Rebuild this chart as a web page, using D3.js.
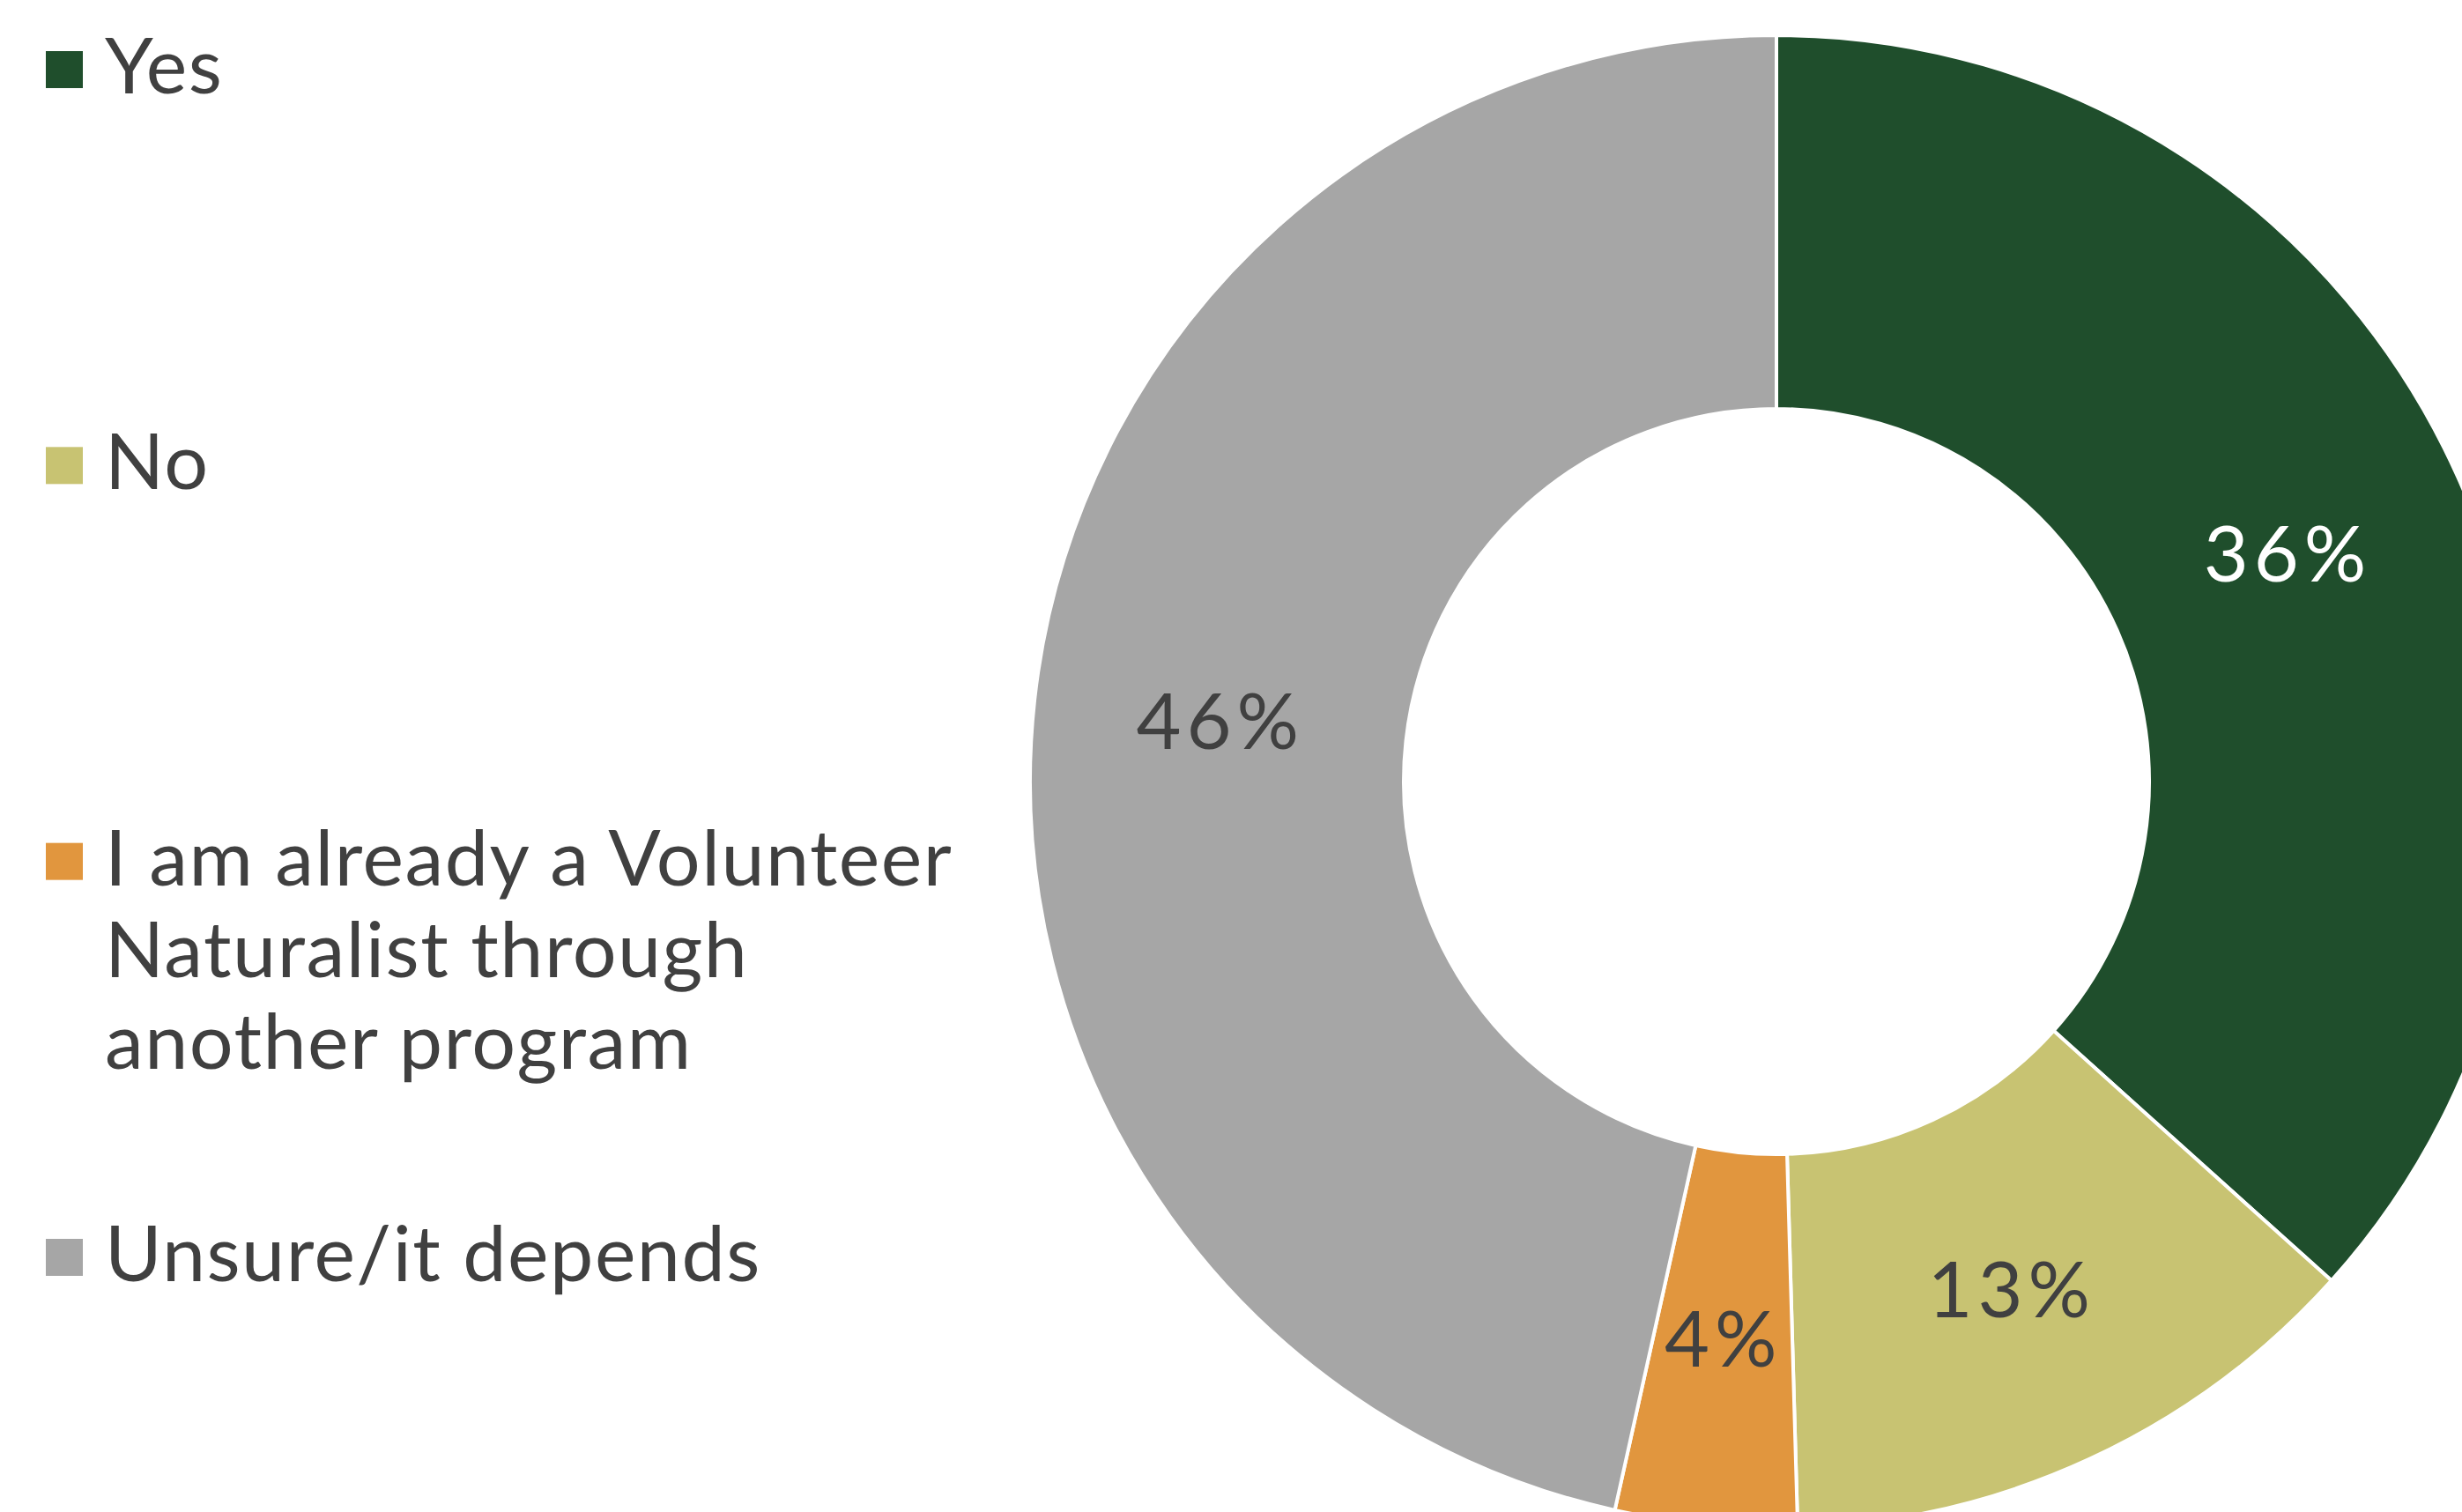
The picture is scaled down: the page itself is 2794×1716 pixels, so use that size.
<!DOCTYPE html>
<html>
<head>
<meta charset="utf-8">
<script src="https://cdn.jsdelivr.net/npm/d3@7"></script>
<style>
  html, body { margin: 0; padding: 0; background: #fff; overflow: hidden; }
  svg { display: block; font-family: Lato, "Open Sans", sans-serif; }
</style>
</head>
<body>
<script>
// values as stored in the sheet (they sum to 99.3%)
const categories = [
  'Yes',
  'No',
  'I am already a Volunteer Naturalist through another program',
  'Unsure/it depends'
];
const shares = [0.364, 0.128, 0.039, 0.462];
const colors = ['#1F4E2C', '#C8C372', '#E1963E', '#A6A6A6'];
const labelColors = ['#ffffff', '#404040', '#404040', '#404040'];

const width = 2794;
const height = 1716;
const fontSize = 88;
const textColor = '#404040';

const svg = d3.select('body').append('svg')
  .attr('width', width)
  .attr('height', height);

// --- donut ---
const cx = 2016, cy = 887;
const outerR = 847, innerR = 423;

const pie = d3.pie().sort(null).value(d => d.value);
const arc = d3.arc().innerRadius(innerR).outerRadius(outerR);
const labelArc = d3.arc().innerRadius((innerR + outerR) / 2).outerRadius((innerR + outerR) / 2);

const data = categories.map((name, i) => ({ name, value: shares[i], i }));
const arcs = pie(data);

const g = svg.append('g').attr('transform', `translate(${cx},${cy})`);

g.selectAll('path.slice').data(arcs).enter()
  .append('path')
  .attr('class', 'slice')
  .attr('d', arc)
  .attr('fill', d => colors[d.data.i])
  .attr('stroke', '#fff')
  .attr('stroke-width', 4)
  .attr('stroke-linejoin', 'round');

const fmt = d3.format('.0%');
g.selectAll('text.lbl').data(arcs).enter()
  .append('text')
  .attr('class', 'lbl')
  .attr('transform', d => `translate(${labelArc.centroid(d)})`)
  .attr('text-anchor', 'middle')
  .attr('dy', '0.36em')
  .attr('font-size', fontSize)
  .attr('letter-spacing', 6)
  .attr('fill', d => labelColors[d.data.i])
  .text(d => fmt(d.data.value));

// --- legend ---
const legendY = d3.scalePoint().domain(categories).range([58, 1406]);
const swatch = 42;
const lineHeight = 104;
const wrapWidth = 1000;

const items = svg.append('g').selectAll('g.item').data(data).enter()
  .append('g')
  .attr('class', 'item')
  .attr('transform', d => `translate(52,${legendY(d.name)})`);

items.append('rect')
  .attr('width', swatch)
  .attr('height', swatch)
  .attr('fill', d => colors[d.i]);

items.append('text')
  .attr('x', 67)
  .attr('y', 48)
  .attr('font-size', fontSize)
  .attr('letter-spacing', 1.5)
  .attr('fill', textColor)
  .each(function (d) {
    const text = d3.select(this);
    const words = d.name.split(' ');
    let line = [];
    let lineNo = 0;
    let tspan = text.append('tspan').attr('x', 67).attr('y', 48);
    words.forEach(w => {
      line.push(w);
      tspan.text(line.join(' '));
      if (tspan.node().getComputedTextLength() > wrapWidth && line.length > 1) {
        line.pop();
        tspan.text(line.join(' '));
        line = [w];
        lineNo++;
        tspan = text.append('tspan')
          .attr('x', 67)
          .attr('y', 48 + lineNo * lineHeight)
          .text(w);
      }
    });
  });
</script>
</body>
</html>
